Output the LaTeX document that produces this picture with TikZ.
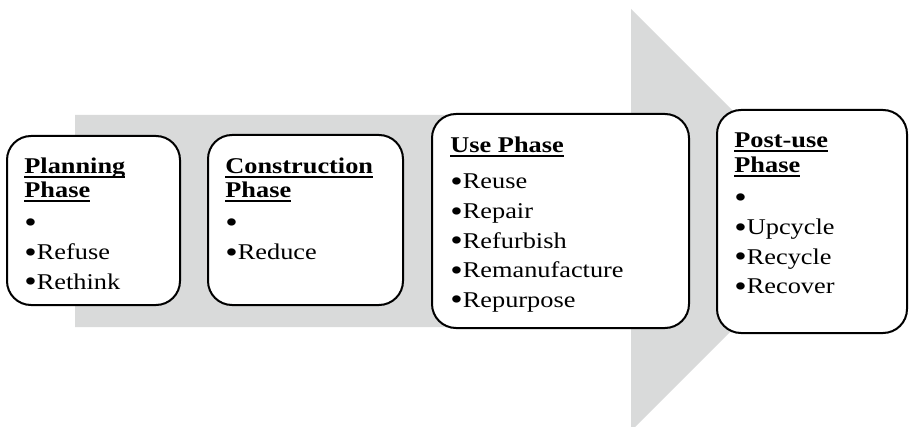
\documentclass[tikz,border=0pt]{standalone}
\usepackage{fontspec}
\setmainfont[FakeStretch=1.17]{Liberation Serif}
\usetikzlibrary{positioning}

\definecolor{arrowgray}{RGB}{217,218,218}

% bold heading with a plain rule under it (rule crosses descenders)
\newsavebox{\ulbox}
\newcommand{\phasehead}[1]{\leavevmode\sbox\ulbox{\bfseries #1}%
  \rlap{\rule[-2pt]{\wd\ulbox}{1pt}}\usebox\ulbox}
% list bullet, a bit larger than the text one
\newcommand{\bul}{\leavevmode\raisebox{-0.25ex}{\scalebox{1.35}{•}}}

\begin{document}
\begin{tikzpicture}[x=0.5pt, y=-0.5pt,
    phasebox/.style={draw=black, line width=1pt, rounded corners=12pt,
      fill=white, inner sep=0pt},
    phasetext/.style={anchor=base west, inner sep=0pt,
      font=\fontsize{11.25}{14.8}\selectfont}]
  \useasboundingbox (0,0) rectangle (909,427);

  % Big gray arrow behind the phases
  \fill[arrowgray] (75,115) -- (631,115) -- (631,9) -- (842,220)
       -- (631,431) -- (631,327) -- (75,327) -- cycle;

  % Phase boxes
  \node[phasebox, minimum width=86.5pt, minimum height=84.5pt]
       (plan) at (93.5,220.5) {};
  \node[phasebox, minimum width=97.5pt, minimum height=85pt]
       (build) at (305.5,220) {};
  \node[phasebox, minimum width=128.5pt, minimum height=107pt]
       (use) at (560.5,221) {};
  \node[phasebox, minimum width=95pt, minimum height=111.5pt]
       (post) at (812,221.5) {};

  % Texts
  \node[phasetext] (plantext) at (24,174) {\parbox[t]{80pt}{%
    \phasehead{Planning}\\[-2.8pt]\phasehead{Phase}\\[1.2pt]
    \bul\\\bul Refuse\\\bul Rethink}};
  \node[phasetext] (buildtext) at (225,174) {\parbox[t]{90pt}{%
    \phasehead{Construction}\\[-2.8pt]\phasehead{Phase}\\[1.2pt]
    \bul\\\bul Reduce}};
  \node[phasetext] (usetext) at (450,153) {\parbox[t]{120pt}{%
    \phasehead{Use Phase}\\[3.2pt]
    \bul Reuse\\\bul Repair\\\bul Refurbish\\\bul Remanufacture\\\bul Repurpose}};
  \node[phasetext] (posttext) at (734,148) {\parbox[t]{80pt}{%
    \phasehead{Post-use}\\[-2.3pt]\phasehead{Phase}\\[1.2pt]
    \bul\\\bul Upcycle\\\bul Recycle\\\bul Recover}};
\end{tikzpicture}
\end{document}
